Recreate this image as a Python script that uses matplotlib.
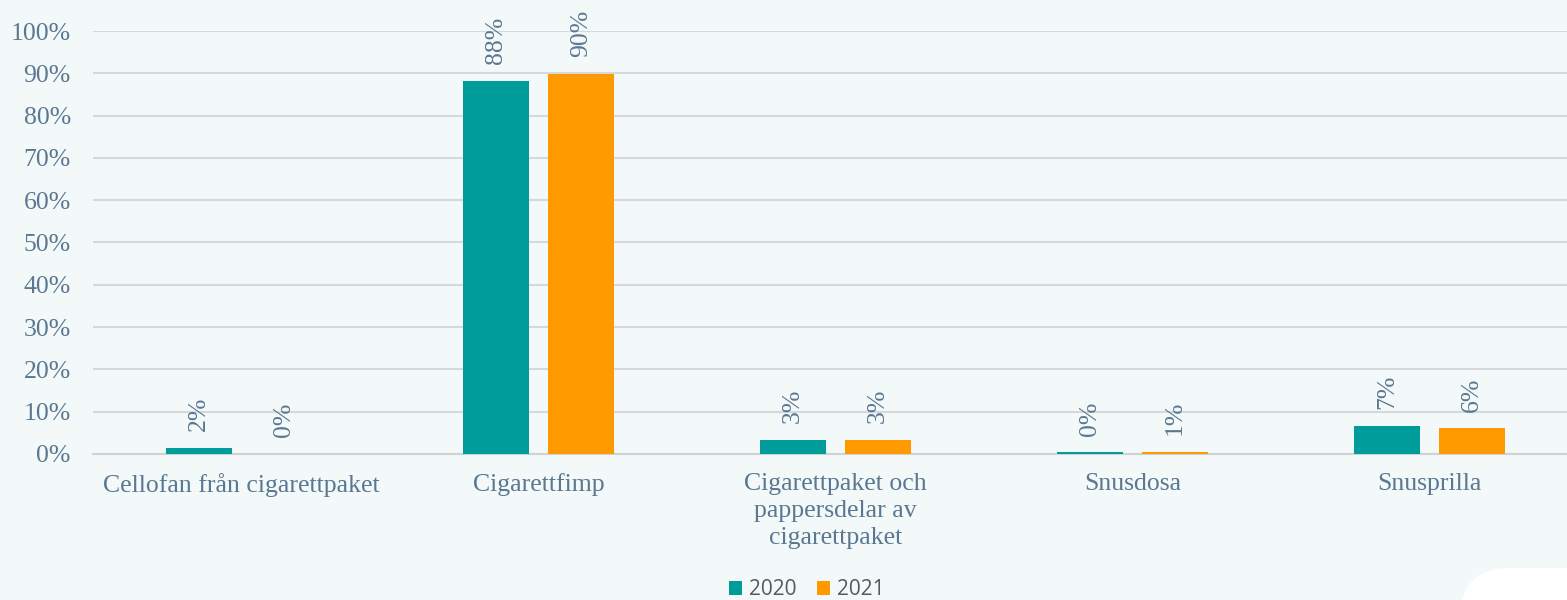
import matplotlib.pyplot as plt
import numpy as np
from matplotlib.patches import FancyBboxPatch

categories = ["Cellofan från cigarettpaket", "Cigarettfimp",
              "Cigarettpaket och\npappersdelar av\ncigarettpaket",
              "Snusdosa", "Snusprilla"]
years = ["2020", "2021"]
values_2020 = [1.5, 88.2, 3.3, 0.4, 6.6]
values_2021 = [0.05, 89.8, 3.3, 0.5, 6.1]
labels_2020 = ["2%", "88%", "3%", "0%", "7%"]
labels_2021 = ["0%", "90%", "3%", "1%", "6%"]

bg = '#f3f8f9'
txt = '#5a7891'
colors = ['#009c9a', '#ff9900']
serif = ['Liberation Serif', 'DejaVu Serif']
fs = 18.5

fig = plt.figure(figsize=(15.67, 6), dpi=100, facecolor=bg)
ax = fig.add_axes([93 / 1567, 1 - 454 / 600, 1485 / 1567, (454 - 31) / 600])
ax.set_facecolor(bg)

x = np.arange(len(categories))
w = 0.222
off = 0.143
series = [values_2020, values_2021]
labels = [labels_2020, labels_2021]
for i, (vals, labs) in enumerate(zip(series, labels)):
    pos = x + (i * 2 - 1) * off
    ax.bar(pos, vals, w, color=colors[i], label=years[i], zorder=3)
    for p, v, l in zip(pos, vals, labs):
        ax.annotate(l, (p, v), xytext=(0, 12), textcoords='offset points',
                    rotation=90, ha='center', va='bottom', color=txt,
                    fontsize=fs, family=serif, annotation_clip=False)

ax.set_ylim(0, 100)
ax.set_xlim(-0.5, len(categories) - 0.5)
ax.set_yticks(np.arange(0, 101, 10))
ax.set_yticklabels([f"{v}%" for v in range(0, 101, 10)])
ax.set_xticks(x)
ax.set_xticklabels(categories)
ax.grid(axis='y', color='#d6d9db', linewidth=1.5, zorder=0)
for s in ['top', 'right', 'left']:
    ax.spines[s].set_visible(False)
ax.spines['bottom'].set_color('#d0d3d6')
ax.spines['bottom'].set_linewidth(1.5)
ax.tick_params(axis='both', length=0, colors=txt, labelsize=fs)
ax.tick_params(axis='x', pad=14)
ax.tick_params(axis='y', pad=16)
for t in ax.get_xticklabels() + ax.get_yticklabels():
    t.set_family(serif)
for t in ax.get_xticklabels():
    t.set_linespacing(1.28)

leg = fig.legend(loc='center', bbox_to_anchor=(0.515, 0.017), ncol=2, frameon=False,
                 handlelength=0.6, handleheight=0.6,
                 handletextpad=0.35, columnspacing=1.0,
                 prop={'family': 'Open Sans', 'size': 15})
for t in leg.get_texts():
    t.set_color('#595959')

# white rounded corner shape, bottom right
fig.patches.append(FancyBboxPatch((14.6, -1.0), 2.0, 1.32,
                                  boxstyle='round,pad=0,rounding_size=0.5',
                                  transform=fig.dpi_scale_trans, facecolor='white',
                                  edgecolor='none'))

fig.savefig('out.png', facecolor=bg)
